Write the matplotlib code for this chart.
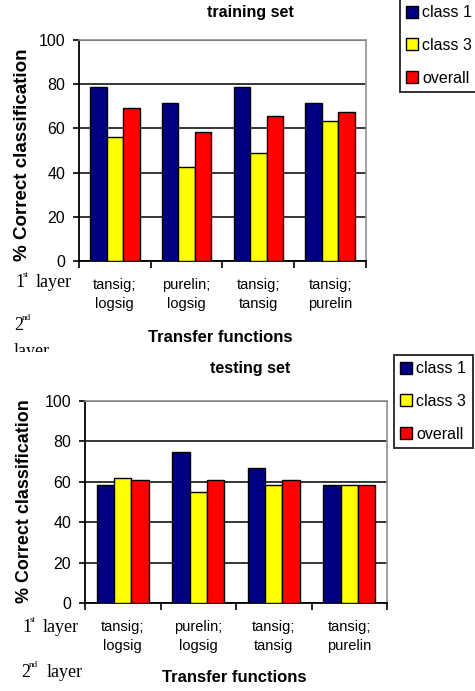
import matplotlib
matplotlib.use("Agg")
import matplotlib.pyplot as plt
import numpy as np
from matplotlib.lines import Line2D
from matplotlib.transforms import Bbox, TransformedBbox

categories = ["tansig;\nlogsig", "purelin;\nlogsig", "tansig;\ntansig", "tansig;\npurelin"]
series = ["class 1", "class 3", "overall"]
colors = ["#000080", "#FFFF00", "#FF0000"]

train_class1 = [78.6, 71.3, 78.6, 71.3]
train_class3 = [56.3, 42.4, 49.0, 63.3]
train_overall = [69.1, 58.5, 65.8, 67.3]

test_class1 = [58.3, 75.0, 66.7, 58.3]
test_class3 = [61.7, 55.0, 58.3, 58.3]
test_overall = [60.8, 60.8, 60.8, 58.3]

W, H = 475, 691
fig = plt.figure(figsize=(W / 100, H / 100), dpi=100)
sans = "Liberation Sans"
serif = "Liberation Serif"


def px(x, y):
    # pixel position (from top-left) to figure fraction
    return x / W, 1 - y / H


def bar_panel(rect, data, title, title_y, xlabel_xy, ylabel_xy, ylabel_size, legend_box):
    left, top, right, bottom = rect
    ax = fig.add_axes([left / W, 1 - bottom / H, (right - left) / W, (bottom - top) / H])
    x = np.arange(len(categories))
    w = 0.23
    for i, vals in enumerate(data):
        ax.bar(x + (i - 1) * w, vals, w, color=colors[i], edgecolor="black",
               linewidth=1.0, zorder=3)
    ax.set_xlim(-0.5, len(categories) - 0.5)
    ax.set_ylim(0, 100)
    ax.set_yticks([0, 20, 40, 60, 80, 100])
    ax.yaxis.grid(True, color="black", linewidth=1.1, zorder=0)
    ax.set_axisbelow(True)
    ax.set_xticks(np.arange(-0.5, len(categories)))
    ax.set_xticklabels([])
    ax.set_xticks(x, minor=True)
    ax.set_xticklabels(categories, minor=True, fontfamily=sans, fontsize=10.5,
                       linespacing=1.45)
    ax.tick_params(axis="x", which="major", direction="out", length=5, width=1.2)
    ax.tick_params(axis="x", which="minor", length=0, pad=12)
    ax.tick_params(axis="y", direction="out", length=4, width=1.2, pad=6,
                   labelsize=11.5)
    for lab in ax.get_yticklabels():
        lab.set_fontfamily(sans)
    for s in ("left", "bottom"):
        ax.spines[s].set_color("black")
        ax.spines[s].set_linewidth(1.3)
    for s in ("top", "right"):
        ax.spines[s].set_color("#909090")
        ax.spines[s].set_linewidth(1.2)

    fig.text(*px(250, title_y), title, ha="center", va="center",
             fontfamily=sans, fontweight="bold", fontsize=11.5)
    fig.text(*px(*xlabel_xy), "Transfer functions", ha="center", va="center",
             fontfamily=sans, fontweight="bold", fontsize=12)
    fig.text(*px(*ylabel_xy), "% Correct classification", ha="center", va="center",
             rotation=90, fontfamily=sans, fontweight="bold", fontsize=ylabel_size)

    handles = [Line2D([], [], marker="s", linestyle="none", markersize=8.5,
                      markerfacecolor=c, markeredgecolor="black", markeredgewidth=1.0)
               for c in colors]
    lx0, ly0, lx1, ly1 = legend_box
    leg = fig.legend(handles, series, loc="upper left",
                     bbox_to_anchor=(lx0 / W, 1 - ly1 / H, (lx1 - lx0) / W, (ly1 - ly0) / H),
                     mode="expand", frameon=True, fancybox=False, borderaxespad=0,
                     handlelength=0.7, handletextpad=0.3, labelspacing=1.1,
                     borderpad=0.4, prop={"family": sans, "size": 11.5})
    leg.get_frame().set_edgecolor("black")
    leg.get_frame().set_linewidth(1.4)
    return ax


bar_panel((79, 40, 366, 261), [train_class1, train_class3, train_overall],
          "training set", 13, (220, 338), (23, 155), 13.5, (400, -1, 478, 96))
bar_panel((85, 401, 387, 603), [test_class1, test_class3, test_overall],
          "testing set", 368, (234, 677), (25, 501), 12.9, (394, 355, 473, 449))


def layer_label(x, base_y, num, sup, word_x=None):
    fig.text(*px(x, base_y), num, ha="left", va="baseline",
             fontfamily=serif, fontsize=13)
    fig.text(*px(x + 8, base_y - 10), sup, ha="left", va="baseline",
             fontfamily=serif, fontsize=6.5)
    if word_x is not None:
        fig.text(*px(word_x, base_y), "layer", ha="left", va="baseline",
                 fontfamily=serif, fontsize=13)


# training panel layer notes; the wrapped "layer" is cut by the panel below
layer_label(15, 287, "1", "st", 36)
layer_label(14, 330, "2", "nd")
cut = fig.text(*px(14, 356), "layer", ha="left", va="baseline",
               fontfamily=serif, fontsize=13)
cut.set_clip_box(TransformedBbox(Bbox.from_extents(0, 1 - 352 / H, 0.3, 1), fig.transFigure))
cut.set_clip_on(True)

# testing panel layer notes
layer_label(22, 632, "1", "st", 43)
layer_label(21, 677, "2", "nd", 47)

fig.savefig("out.png", dpi=100, facecolor="white")
